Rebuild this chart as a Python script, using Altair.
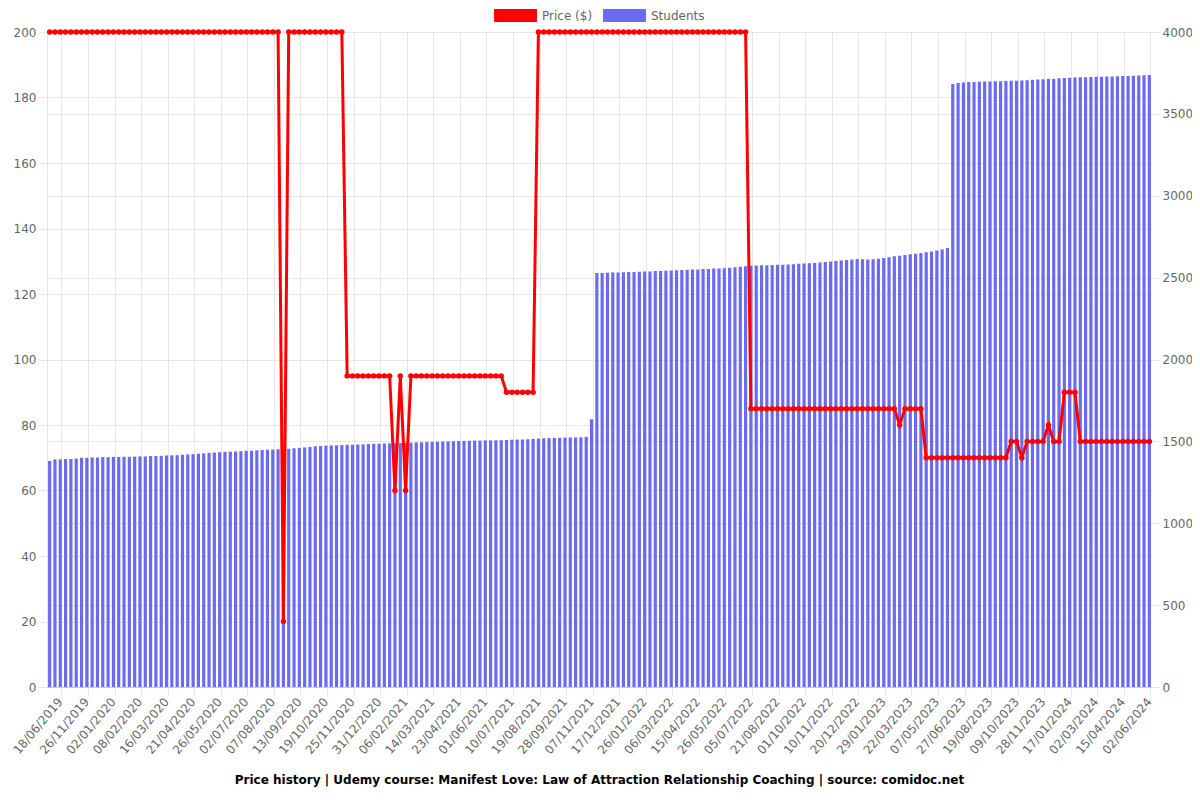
import altair as alt
import pandas as pd

# ---- data ----
tick_labels = [
    "18/06/2019", "26/11/2019", "02/01/2020", "08/02/2020", "16/03/2020", "21/04/2020",
    "26/05/2020", "02/07/2020", "07/08/2020", "13/09/2020", "19/10/2020", "25/11/2020",
    "31/12/2020", "06/02/2021", "14/03/2021", "23/04/2021", "01/06/2021", "10/07/2021",
    "19/08/2021", "28/09/2021", "07/11/2021", "17/12/2021", "26/01/2022", "06/03/2022",
    "15/04/2022", "26/05/2022", "05/07/2022", "21/08/2022", "01/10/2022", "10/11/2022",
    "20/12/2022", "29/01/2023", "22/03/2023", "07/05/2023", "27/06/2023", "19/08/2023",
    "09/10/2023", "28/11/2023", "17/01/2024", "02/03/2024", "15/04/2024", "02/06/2024",
]

price = [
    200, 200, 200, 200, 200, 200, 200, 200, 200, 200,
    200, 200, 200, 200, 200, 200, 200, 200, 200, 200,
    200, 200, 200, 200, 200, 200, 200, 200, 200, 200,
    200, 200, 200, 200, 200, 200, 200, 200, 200, 200,
    200, 200, 200, 200, 20, 200, 200, 200, 200, 200,
    200, 200, 200, 200, 200, 200, 95, 95, 95, 95,
    95, 95, 95, 95, 95, 60, 95, 60, 95, 95,
    95, 95, 95, 95, 95, 95, 95, 95, 95, 95,
    95, 95, 95, 95, 95, 95, 90, 90, 90, 90,
    90, 90, 200, 200, 200, 200, 200, 200, 200, 200,
    200, 200, 200, 200, 200, 200, 200, 200, 200, 200,
    200, 200, 200, 200, 200, 200, 200, 200, 200, 200,
    200, 200, 200, 200, 200, 200, 200, 200, 200, 200,
    200, 200, 85, 85, 85, 85, 85, 85, 85, 85,
    85, 85, 85, 85, 85, 85, 85, 85, 85, 85,
    85, 85, 85, 85, 85, 85, 85, 85, 85, 85,
    80, 85, 85, 85, 85, 70, 70, 70, 70, 70,
    70, 70, 70, 70, 70, 70, 70, 70, 70, 70,
    70, 75, 75, 70, 75, 75, 75, 75, 80, 75,
    75, 90, 90, 90, 75, 75, 75, 75, 75, 75,
    75, 75, 75, 75, 75, 75, 75, 75,
]

students = [
    1380, 1390, 1390, 1392, 1392, 1395, 1400, 1400, 1402, 1402,
    1404, 1404, 1405, 1405, 1406, 1406, 1407, 1408, 1408, 1410,
    1410, 1412, 1413, 1415, 1416, 1418, 1420, 1422, 1425, 1427,
    1430, 1432, 1434, 1436, 1437, 1438, 1440, 1442, 1443, 1445,
    1447, 1449, 1450, 1452, 1453, 1455, 1458, 1460, 1463, 1466,
    1470, 1472, 1474, 1475, 1476, 1478, 1479, 1480, 1481, 1482,
    1484, 1485, 1486, 1487, 1488, 1489, 1490, 1491, 1492, 1494,
    1495, 1496, 1497, 1498, 1499, 1500, 1501, 1502, 1503, 1504,
    1505, 1505, 1506, 1506, 1507, 1507, 1508, 1510, 1511, 1512,
    1513, 1515, 1517, 1519, 1520, 1521, 1522, 1523, 1524, 1524,
    1525, 1527, 1635, 2528, 2529, 2530, 2531, 2532, 2533, 2534,
    2535, 2536, 2537, 2538, 2540, 2541, 2542, 2543, 2545, 2546,
    2548, 2549, 2550, 2552, 2553, 2555, 2556, 2558, 2560, 2563,
    2566, 2570, 2572, 2574, 2575, 2576, 2577, 2578, 2579, 2580,
    2582, 2584, 2586, 2588, 2590, 2593, 2596, 2599, 2602, 2605,
    2608, 2611, 2614, 2612, 2610, 2612, 2616, 2620, 2625, 2630,
    2634, 2638, 2642, 2646, 2650, 2655, 2660, 2665, 2672, 2681,
    3683, 3688, 3692, 3694, 3695, 3696, 3697, 3698, 3699, 3700,
    3701, 3702, 3703, 3704, 3706, 3708, 3710, 3712, 3713, 3715,
    3717, 3719, 3721, 3722, 3723, 3724, 3725, 3726, 3727, 3728,
    3729, 3730, 3731, 3732, 3733, 3734, 3736, 3738,
]

n = len(price)
label_first = 2
label_step = 5
label_idx = [label_first + label_step * k for k in range(len(tick_labels))]

df = pd.DataFrame({
    "idx": list(range(n)),
    "price": price,
    "students": students,
    "series": ["Students"] * n,
})

RED = "#ff0000"
BLUE = "#6b6bf0"
GRID = "#e6e6e6"
TXT = "#666666"
FONT = "DejaVu Sans"

label_array = "[" + ",".join("'%s'" % s for s in tick_labels) + "]"
label_expr = f"{label_array}[(datum.value - {label_first}) / {label_step}]"

x_enc = alt.X(
    "idx:O",
    scale=alt.Scale(paddingInner=0.4, paddingOuter=0.2),
    axis=alt.Axis(
        values=label_idx,
        labelExpr=label_expr,
        labelAngle=-50,
        labelAlign="right",
        labelBaseline="middle",
        labelFontSize=12,
        labelColor=TXT,
        labelFont=FONT,
        labelPadding=4,
        bandPosition=1,
        grid=True,
        gridColor=GRID,
        tickColor=GRID,
        tickSize=8,
        domainColor="#cccccc",
        title=None,
        labelOverlap=False,
    ),
)

bars = alt.Chart(df).mark_bar().encode(
    x=x_enc,
    y=alt.Y(
        "students:Q",
        scale=alt.Scale(domain=[0, 4000], nice=False),
        axis=alt.Axis(
            orient="right",
            values=list(range(0, 4001, 500)),
            format="d",
            grid=True,
            gridColor=GRID,
            tickColor=GRID,
            tickSize=7,
            domain=False,
            labelFontSize=12,
            labelColor=TXT,
            labelFont=FONT,
            labelPadding=3,
            title=None,
        ),
    ),
    color=alt.Color(
        "series:N",
        scale=alt.Scale(domain=["Price ($)", "Students"], range=[RED, BLUE]),
        legend=alt.Legend(
            title=None,
            orient="none",
            direction="horizontal",
            legendX=462,
            legendY=-23,
            symbolType="M-3.3,-1L3.3,-1L3.3,1L-3.3,1Z",
            symbolSize=169,
            symbolStrokeWidth=0,
            labelOffset=20,
            columnPadding=10,
            labelFontSize=12,
            labelColor=TXT,
            labelFont=FONT,
        ),
    ),
)

line = alt.Chart(df).mark_line(
    color=RED,
    strokeWidth=3,
    point=alt.OverlayMarkDef(color=RED, filled=True, size=30, opacity=1),
).encode(
    x=x_enc,
    y=alt.Y(
        "price:Q",
        scale=alt.Scale(domain=[0, 200], nice=False),
        axis=alt.Axis(
            orient="left",
            values=list(range(0, 201, 20)),
            grid=True,
            gridColor=GRID,
            tickColor=GRID,
            tickSize=8,
            domainColor=GRID,
            labelFontSize=12,
            labelColor=TXT,
            labelFont=FONT,
            labelPadding=3,
            title=None,
        ),
    ),
)

chart = (
    alt.layer(bars, line)
    .resolve_scale(y="independent")
    .properties(
        width=1105,
        height=655,
        autosize=alt.AutoSizeParams(type="none"),
        padding={"left": 39, "top": 24, "right": 40, "bottom": 100},
        title=alt.TitleParams(
            "Price history | Udemy course: Manifest Love: Law of Attraction Relationship Coaching | source: comidoc.net",
            orient="bottom",
            anchor="middle",
            fontSize=12,
            fontWeight="bold",
            font=FONT,
            color="#000000",
            offset=19,
        ),
    )
    .configure_view(stroke=None)
)

chart.save("out.html", embed_options={"renderer": "svg", "actions": False})
